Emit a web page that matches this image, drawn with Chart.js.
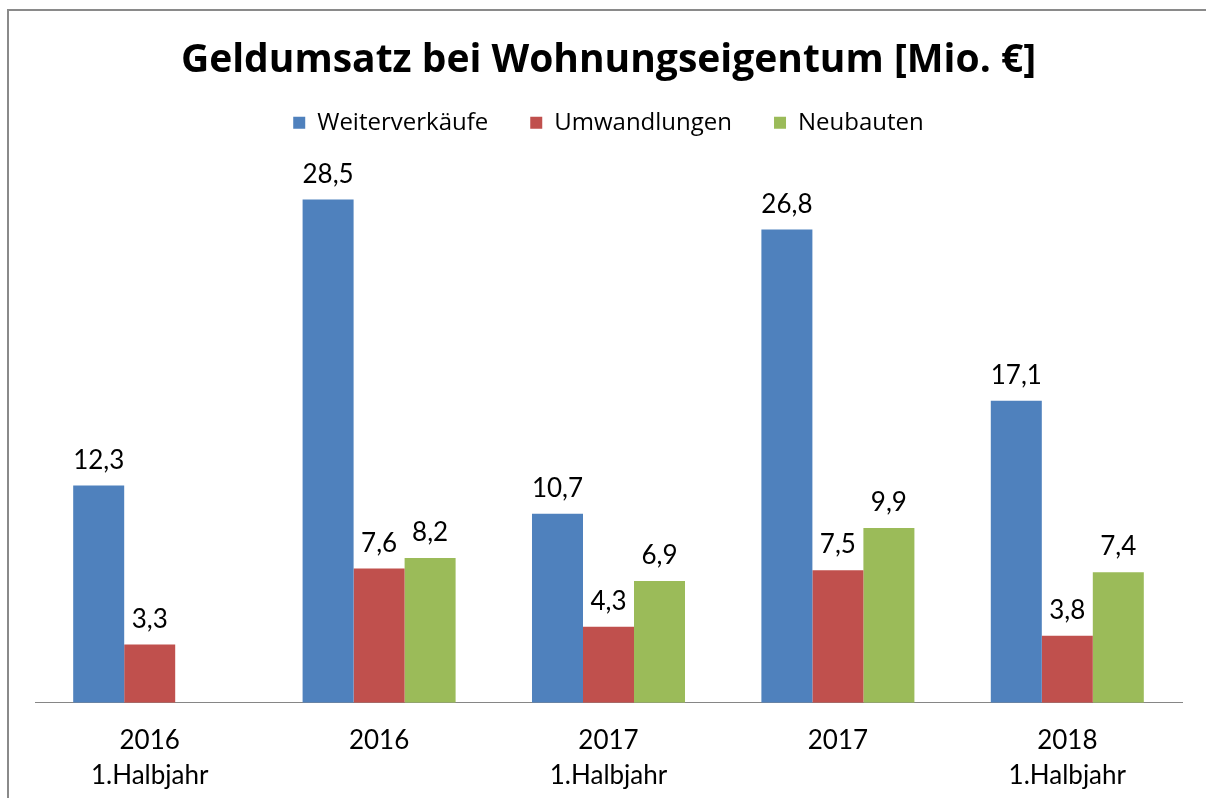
<!DOCTYPE html>
<html>
<head>
<meta charset="utf-8">
<script src="https://cdn.jsdelivr.net/npm/chart.js@4"></script>
<style>
	html, body { margin: 0; padding: 0; background: #fff; }
	#wrap { position: relative; width: 1206px; height: 798px; }
</style>
</head>
<body>
<div id="wrap"><canvas id="plot"></canvas></div>
<script>
const categories = [['2016', '1.Halbjahr'], '2016', ['2017', '1.Halbjahr'], '2017', ['2018', '1.Halbjahr']];
const weiterverkaeufe = [12.3, 28.5, 10.7, 26.8, 17.1];
const umwandlungen = [3.3, 7.6, 4.3, 7.5, 3.8];
const neubauten = [null, 8.2, 6.9, 9.9, 7.4];

const fontName = 'Lato';

// frame line on left and top like the original picture
const frame = {
	id: 'frame',
	beforeDraw(chart) {
		const ctx = chart.ctx;
		ctx.save();
		ctx.fillStyle = '#fff';
		ctx.fillRect(0, 0, chart.width, chart.height);
		ctx.strokeStyle = '#8a8a8a';
		ctx.lineWidth = 2;
		ctx.beginPath();
		ctx.moveTo(8, chart.height);
		ctx.lineTo(8, 10);
		ctx.lineTo(chart.width, 10);
		ctx.stroke();
		ctx.restore();
	}
};

// value labels above each bar, german decimal comma
const valueLabels = {
	id: 'valueLabels',
	afterDatasetsDraw(chart) {
		const ctx = chart.ctx;
		ctx.save();
		ctx.font = '26px ' + fontName;
		ctx.fillStyle = '#000';
		ctx.textAlign = 'center';
		ctx.textBaseline = 'alphabetic';
		chart.data.datasets.forEach((ds, i) => {
			chart.getDatasetMeta(i).data.forEach((bar, j) => {
				const v = ds.data[j];
				if (v === null || v === undefined) return;
				ctx.fillText(v.toFixed(1).replace('.', ','), bar.x, bar.y - 17);
			});
		});
		ctx.restore();
	}
};

const plot = new Chart(document.getElementById('plot').getContext('2d'), {
	type: 'bar',
	data: {
		labels: categories,
		datasets: [{
			label: 'Weiterverkäufe',
			data: weiterverkaeufe,
			backgroundColor: '#4F81BD',
			borderWidth: 0
		}, {
			label: 'Umwandlungen',
			data: umwandlungen,
			backgroundColor: '#C0504D',
			borderWidth: 0
		}, {
			label: 'Neubauten',
			data: neubauten,
			backgroundColor: '#9BBB59',
			borderWidth: 0
		}]
	},
	options: {
		responsive: true,
		maintainAspectRatio: false,
		animation: false,
		datasets: {
			bar: {
				categoryPercentage: 0.667,
				barPercentage: 1
			}
		},
		layout: {
			padding: {
				left: 35,
				right: 24,
				top: 0,
				bottom: -15
			}
		},
		plugins: {
			title: {
				display: true,
				text: 'Geldumsatz bei Wohnungseigentum [Mio. €]',
				color: '#000',
				font: {
					family: 'Open Sans',
					size: 39,
					weight: 'bold'
				},
				padding: {
					top: 37,
					bottom: -15
				}
			},
			legend: {
				display: true,
				labels: {
					color: '#000',
					boxWidth: 12,
					boxHeight: 12,
					padding: 42,
					font: {
						family: 'Open Sans',
						size: 24
					}
				}
			},
			tooltip: {
				enabled: false
			}
		},
		scales: {
			x: {
				grid: {
					display: false,
					drawTicks: false
				},
				border: {
					display: true,
					color: '#868686',
					width: 1
				},
				ticks: {
					color: '#000',
					padding: 20,
					maxRotation: 0,
					font: {
						family: fontName,
						size: 26,
						lineHeight: 1.35
					}
				}
			},
			y: {
				display: false,
				min: 0,
				max: 31.6
			}
		}
	},
	plugins: [frame, valueLabels]
});
</script>
</body>
</html>
